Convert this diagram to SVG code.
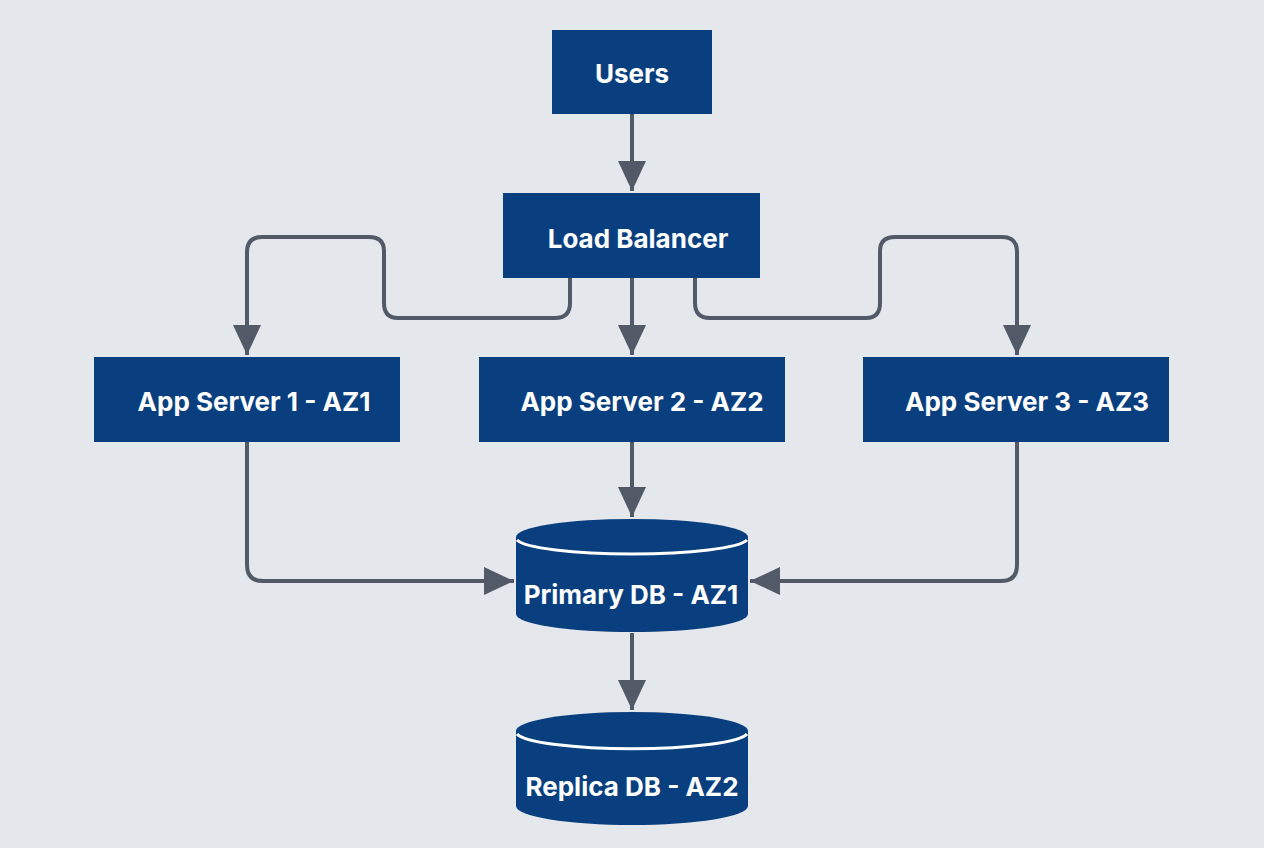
<svg xmlns="http://www.w3.org/2000/svg" width="1264" height="848" viewBox="0 0 1264 848">
<defs>
<style>
.box{fill:#0a3f7f}
.lbl{fill:#ffffff;font-family:Inter,"Liberation Sans",sans-serif;font-weight:700;font-size:26px;text-anchor:middle;dominant-baseline:central}
.edge{fill:none;stroke:#525a68;stroke-width:4;stroke-linejoin:round}
.sep{fill:none;stroke:#ffffff;stroke-width:3}
</style>
<marker id="ah" markerWidth="8" markerHeight="7" refX="7.5" refY="3.5" orient="auto" markerUnits="strokeWidth">
<path d="M0,0 L7.5,3.5 L0,7 Z" fill="#525a68"/>
</marker>
</defs>
<rect width="1264" height="848" fill="#e4e7ec"/>
<g id="connectors">
<path class="edge" d="M632,114 V191" marker-end="url(#ah)"/>
<path class="edge" d="M632,278 V355" marker-end="url(#ah)"/>
<path class="edge" d="M570,278 V303 Q570,318 555,318 H398 Q384,318 384,303 V251 Q384,237 369,237 H262 Q247,237 247,252 V355" marker-end="url(#ah)"/>
<path class="edge" d="M695,278 V303 Q695,318 710,318 H866 Q880,318 880,303 V251 Q880,237 895,237 H1002 Q1017,237 1017,252 V355" marker-end="url(#ah)"/>
<path class="edge" d="M247,442 V565 Q247,581 263,581 H514" marker-end="url(#ah)"/>
<path class="edge" d="M1017,442 V565 Q1017,581 1001,581 H750" marker-end="url(#ah)"/>
<path class="edge" d="M632,442 V517" marker-end="url(#ah)"/>
<path class="edge" d="M632,633 V710" marker-end="url(#ah)"/>
</g>
<g id="users">
<rect class="box" x="552" y="30" width="160" height="84"/>
<text class="lbl" x="632" y="73">Users</text>
</g>
<g id="load-balancer">
<rect class="box" x="503" y="193" width="257" height="85"/>
<text class="lbl" x="638" y="238">Load Balancer</text>
</g>
<g id="app1">
<rect class="box" x="94" y="357" width="306" height="85"/>
<text class="lbl" x="254" y="401">App Server 1 - AZ1</text>
</g>
<g id="app2">
<rect class="box" x="479" y="357" width="306" height="85"/>
<text class="lbl" x="642" y="401">App Server 2 - AZ2</text>
</g>
<g id="app3">
<rect class="box" x="863" y="357" width="306" height="85"/>
<text class="lbl" x="1027" y="401">App Server 3 - AZ3</text>
</g>
<g id="primary-db">
<path class="box" d="M516,537 A116,18 0 0 1 748,537 V614 A116,18 0 0 1 516,614 Z"/>
<path class="sep" d="M517,540 A116,16 0 0 0 747,540"/>
<text class="lbl" x="631" y="594">Primary DB - AZ1</text>
</g>
<g id="replica-db">
<path class="box" d="M516,731 A116,19 0 0 1 748,731 V806 A116,19 0 0 1 516,806 Z"/>
<path class="sep" d="M517,734 A116,17 0 0 0 747,734"/>
<text class="lbl" x="632" y="786">Replica DB - AZ2</text>
</g>
</svg>
